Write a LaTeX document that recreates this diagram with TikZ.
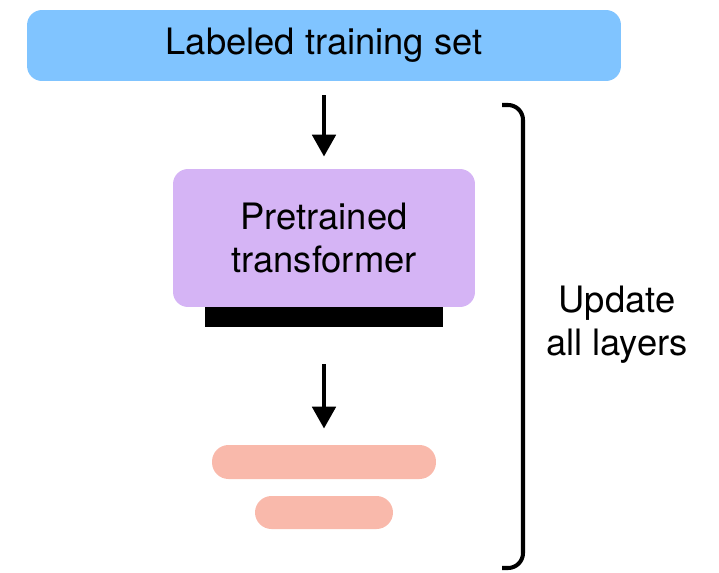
\documentclass[tikz,border=0pt]{standalone}
\usepackage{fontspec}
\setmainfont{TeX Gyre Heros}
\usetikzlibrary{arrows.meta, positioning}

\definecolor{setblue}{HTML}{80C4FF}
\definecolor{modelpurple}{HTML}{D5B4F5}
\definecolor{headsalmon}{HTML}{F9B9AB}

\tikzset{
  block/.style={draw=none, inner sep=0pt, align=center, rounded corners=0.3cm,
    font=\fontsize{20.7}{24.5}\selectfont},
  layerbar/.style={draw=none, inner sep=0pt, rounded corners=0.33cm, fill=headsalmon},
  flow/.style={-{Triangle[length=0.44cm, width=0.46cm]}, line width=2.8pt},
}

\begin{document}
\begin{tikzpicture}[x=0.02cm, y=0.02cm]
  \useasboundingbox (0,0) rectangle (719,572);

  % Blocks
  \node[block, fill=setblue, minimum width=11.88cm, minimum height=1.42cm] (train) at (324,526.5) {Labeled training set};
  \node[draw=none, fill=black, inner sep=0pt, minimum width=4.76cm, minimum height=0.44cm] (outlayer) at (324,256) {};
  \node[block, fill=modelpurple, minimum width=6.04cm, minimum height=2.76cm] (model) at (324,334) {Pretrained\\transformer};
  \node[layerbar, minimum width=4.48cm, minimum height=0.68cm] (head1) at (324,110) {};
  \node[layerbar, minimum width=2.76cm, minimum height=0.66cm] (head2) at (324,59.5) {};

  % Arrows
  \draw[flow, shorten <=0.28cm, shorten >=0.24cm] (train.south -| model.north) -- (model.north);
  \draw[flow, shorten <=0.74cm, shorten >=0.32cm] (outlayer.south) -- (head1.north);

  % Bracket and label
  \draw[line width=2.3pt, rounded corners=0.3cm] (502,467) -- (523,467) -- (523,4) -- (502,4);
  \node[block, font=\fontsize{20.7}{24.5}\selectfont] (update) at (617,247) {Update\\all layers};

\end{tikzpicture}
\end{document}
